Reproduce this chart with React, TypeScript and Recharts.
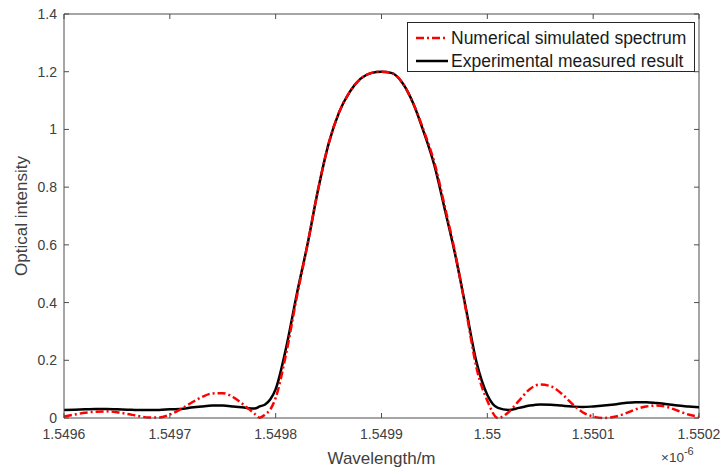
import {
  LineChart,
  Line,
  XAxis,
  YAxis,
  ReferenceLine,
  Label,
} from "recharts";

// wavelength in units of 1e-6 m
const wavelength = [
  1.5496, 1.54961, 1.54962, 1.54963, 1.54964, 1.54965, 1.54966, 1.54967,
  1.54968, 1.54969, 1.5497, 1.54971, 1.54972, 1.54973, 1.54974, 1.54975,
  1.54976, 1.54977, 1.54978, 1.549785, 1.54979, 1.549795, 1.5498, 1.54981,
  1.54982, 1.54983, 1.54984, 1.54985, 1.54986, 1.54987, 1.54988, 1.54989,
  1.5499, 1.54991, 1.54992, 1.54993, 1.54994, 1.54995, 1.54996, 1.54997,
  1.54998, 1.54999, 1.55, 1.55001, 1.55002, 1.55003, 1.55004, 1.55005,
  1.55006, 1.55007, 1.55008, 1.55009, 1.5501, 1.55011, 1.55012, 1.55013,
  1.55014, 1.55015, 1.55016, 1.55017, 1.55018, 1.55019, 1.5502,
];

const simulated = [
  0.005, 0.012, 0.018, 0.022, 0.023, 0.02, 0.014, 0.007,
  0.002, 0.002, 0.012, 0.03, 0.052, 0.072, 0.085, 0.086,
  0.072, 0.045, 0.015, 0.001, 0.012, 0.03, 0.07, 0.225,
  0.42, 0.6, 0.79, 0.95, 1.06, 1.13, 1.175, 1.195,
  1.2, 1.195, 1.16, 1.09, 0.995, 0.885, 0.73, 0.565,
  0.37, 0.17, 0.06, 0.0, 0.02, 0.06, 0.1, 0.116,
  0.11, 0.085, 0.05, 0.02, 0.005, 0.0, 0.004, 0.015,
  0.03, 0.04, 0.043, 0.038, 0.025, 0.012, 0.004,
];

const measured = [
  0.028, 0.029, 0.03, 0.031, 0.031, 0.03, 0.029, 0.028,
  0.028, 0.028, 0.03, 0.031, 0.036, 0.04, 0.043, 0.043,
  0.04, 0.036, 0.033, 0.04, 0.047, 0.065, 0.1, 0.245,
  0.43, 0.6, 0.79, 0.95, 1.06, 1.13, 1.175, 1.195,
  1.2, 1.195, 1.16, 1.09, 0.99, 0.875, 0.72, 0.56,
  0.375, 0.19, 0.08, 0.035, 0.028, 0.035, 0.043, 0.047,
  0.046, 0.043, 0.04, 0.038, 0.04, 0.043, 0.047, 0.052,
  0.055, 0.055, 0.052, 0.048, 0.043, 0.04, 0.037,
];

const xTicks = [1.5496, 1.5497, 1.5498, 1.5499, 1.55, 1.5501, 1.5502];
const xTickLabels = ["1.5496", "1.5497", "1.5498", "1.5499", "1.55", "1.5501", "1.5502"];
const yTicks = [0, 0.2, 0.4, 0.6, 0.8, 1, 1.2, 1.4];
const yTickLabels = ["0", "0.2", "0.4", "0.6", "0.8", "1", "1.2", "1.4"];

const data = wavelength.map((w, i) => ({
  w,
  sim: simulated[i],
  meas: measured[i],
}));

const W = 721;
const H = 468;
const TOP = 14;
const RIGHT = 699;
const FONT = '"Liberation Sans", Arial, Helvetica, sans-serif';
const AXIS = "#4d4d4d";
const TEXT = "#404040";
const RED_DASH = "8 3 2 3";

const XTick = (props: any) => {
  const { x, y, index } = props;
  return (
    <g>
      <line x1={x} y1={y} x2={x} y2={y - 5} stroke={AXIS} />
      <line x1={x} y1={TOP} x2={x} y2={TOP + 5} stroke={AXIS} />
      <text x={x} y={y + 21} textAnchor="middle" fontSize={14} fill={TEXT} fontFamily={FONT}>
        {xTickLabels[index]}
      </text>
    </g>
  );
};

const YTick = (props: any) => {
  const { x, y, index } = props;
  return (
    <g>
      <line x1={x} y1={y} x2={x + 5} y2={y} stroke={AXIS} />
      <line x1={RIGHT} y1={y} x2={RIGHT - 5} y2={y} stroke={AXIS} />
      <text x={x - 7} y={y} dy="0.36em" textAnchor="end" fontSize={14} fill={TEXT} fontFamily={FONT}>
        {yTickLabels[index]}
      </text>
    </g>
  );
};

const ChartLegend = () => (
  <div
    style={{
      position: "absolute",
      left: 407,
      top: 22,
      border: "1px solid #262626",
      background: "#fff",
      width: 288,
      height: 50,
      boxSizing: "border-box",
      fontFamily: FONT,
      fontSize: 17.5,
      color: "#1a1a1a",
    }}
  >
    <svg width={40} height={49} style={{ position: "absolute", left: 0, top: 0 }}>
      <line x1={8} y1={15} x2={40} y2={15} stroke="#ff0000" strokeWidth={2.5} strokeDasharray={RED_DASH} />
      <line x1={8} y1={38} x2={40} y2={38} stroke="#000" strokeWidth={2.5} />
    </svg>
    <div style={{ position: "absolute", left: 43, top: 4, whiteSpace: "nowrap", lineHeight: "22px" }}>
      Numerical simulated spectrum
    </div>
    <div style={{ position: "absolute", left: 43, top: 27, whiteSpace: "nowrap", lineHeight: "22px" }}>
      Experimental measured result
    </div>
  </div>
);

export default function App() {
  return (
    <div style={{ position: "relative", width: W, height: H, background: "#fff" }}>
      <style>{`body{margin:0}`}</style>
      <LineChart
        width={W}
        height={H}
        data={data}
        margin={{ top: TOP, right: W - RIGHT, left: 0, bottom: 0 }}
      >
        <XAxis
          dataKey="w"
          type="number"
          domain={[1.5496, 1.5502]}
          ticks={xTicks}
          interval={0}
          allowDataOverflow
          height={50}
          tickSize={0}
          tickMargin={0}
          stroke={AXIS}
          tick={<XTick />}
        >
          <Label
            value="Wavelength/m"
            position="insideBottom"
            offset={4}
            style={{ fontSize: 17, fill: TEXT, fontFamily: FONT }}
          />
        </XAxis>
        <YAxis
          type="number"
          domain={[0, 1.4]}
          ticks={yTicks}
          interval={0}
          width={64}
          tickSize={0}
          tickMargin={0}
          stroke={AXIS}
          tick={<YTick />}
        >
          <Label
            value="Optical intensity"
            angle={-90}
            position="insideLeft"
            offset={21}
            style={{ fontSize: 17, fill: TEXT, fontFamily: FONT, textAnchor: "middle" }}
          />
        </YAxis>
        <ReferenceLine y={1.4} stroke={AXIS} />
        <ReferenceLine x={1.5502} stroke={AXIS} />
        <Line
          type="monotone"
          dataKey="meas"
          stroke="#000"
          strokeWidth={2.5}
          dot={false}
          isAnimationActive={false}
        />
        <Line
          type="monotone"
          dataKey="sim"
          stroke="#ff0000"
          strokeWidth={2.5}
          strokeDasharray={RED_DASH}
          dot={false}
          isAnimationActive={false}
        />
      </LineChart>
      <ChartLegend />
      <div
        style={{
          position: "absolute",
          left: 661,
          top: 450,
          fontFamily: FONT,
          fontSize: 13.5,
          lineHeight: "15px",
          color: TEXT,
          whiteSpace: "nowrap",
        }}
      >
        ×10
        <span style={{ fontSize: 11, position: "relative", top: -7 }}>-6</span>
      </div>
    </div>
  );
}
